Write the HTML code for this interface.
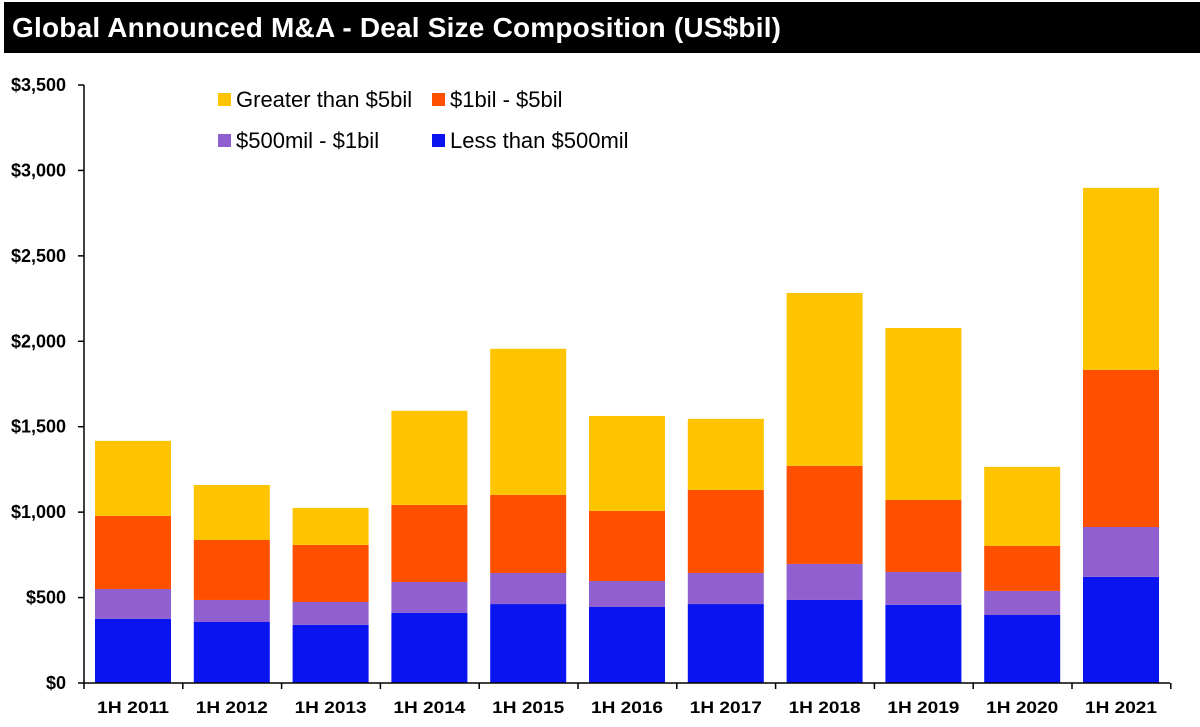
<!DOCTYPE html>
<html><head><meta charset="utf-8"><style>
body{margin:0;background:#fff;width:1200px;height:727px;overflow:hidden;font-family:"Liberation Sans",Arial,sans-serif}
#title{position:absolute;left:4px;top:2px;width:1196px;height:51px;background:#000;color:#fff;font-weight:bold;font-size:28px;line-height:51px;padding-left:8px;box-sizing:border-box;letter-spacing:0.2px}
svg{position:absolute;left:0;top:0}
</style></head><body>
<div id="title">Global Announced M&amp;A - Deal Size Composition (US$bil)</div>
<svg id="c" width="1200" height="727"></svg>
<script>
const categories=["1H 2011","1H 2012","1H 2013","1H 2014","1H 2015","1H 2016","1H 2017","1H 2018","1H 2019","1H 2020","1H 2021"];
const lessThan500=[375,357,340,410,462,445,462,486,457,398,621];
const mil500to1bil=[175,129,134,181,182,152,182,211,193,141,292];
const bil1to5=[428,351,334,451,457,410,486,574,421,263,920];
const greater5=[439,322,217,551,855,556,416,1012,1007,463,1065];
const yTicks=[0,500,1000,1500,2000,2500,3000,3500];
const yTickLabels=["$0","$500","$1,000","$1,500","$2,000","$2,500","$3,000","$3,500"];
const series=[{n:"less-than-500mil",v:lessThan500,c:"#0a14f0"},{n:"500mil-1bil",v:mil500to1bil,c:"#9060d0"},{n:"1bil-5bil",v:bil1to5,c:"#ff5000"},{n:"greater-than-5bil",v:greater5,c:"#ffc400"}];
const svg=document.getElementById('c');const NS="http://www.w3.org/2000/svg";
const y0=683,pxPer=598/3500;
const y=v=>y0-v*pxPer;
const xc=i=>133+i*98.8;
function mk(t,a,txt){const e=document.createElementNS(NS,t);for(const k in a)e.setAttribute(k,a[k]);if(txt!=null)e.textContent=txt;svg.appendChild(e);return e;}
categories.forEach((cat,i)=>{let acc=0;series.forEach(s=>{const v=s.v[i];
const r=mk('rect',{x:xc(i)-38,y:y(acc+v),width:76,height:v*pxPer,fill:s.c});

acc+=v;});
const t=mk('text',{x:xc(i),y:713,'text-anchor':'middle','font-size':17,'font-weight':'bold','fill':'#000',textLength:72,lengthAdjust:'spacingAndGlyphs'},cat);
});
const ax=mk('line',{x1:84,y1:85,x2:84,y2:y0,stroke:'#000','stroke-width':1.5});

const bx=mk('line',{x1:84,y1:y0,x2:1170,y2:y0,stroke:'#000','stroke-width':1.5});

yTicks.forEach((v,i)=>{const l=mk('line',{x1:78,y1:y(v),x2:84,y2:y(v),stroke:'#000','stroke-width':1.5});

const t=mk('text',{x:66,y:y(v)+6,'text-anchor':'end','font-size':18,'font-weight':'bold'},yTickLabels[i]);
});
for(let i=0;i<=categories.length;i++){const l=mk('line',{x1:84+i*98.8,y1:y0,x2:84+i*98.8,y2:y0+6,stroke:'#000','stroke-width':1.5});
}
const leg=[["Greater than $5bil","#ffc400",218,100],["$1bil - $5bil","#ff5000",432,100],["$500mil - $1bil","#9060d0",218,141],["Less than $500mil","#0a14f0",432,141]];
leg.forEach(L=>{const r=mk('rect',{x:L[2],y:L[3]-7,width:13,height:13,fill:L[1]});

const t=mk('text',{x:L[2]+18,y:L[3]+7,'font-size':22},L[0]);
});
</script>
</body></html>
